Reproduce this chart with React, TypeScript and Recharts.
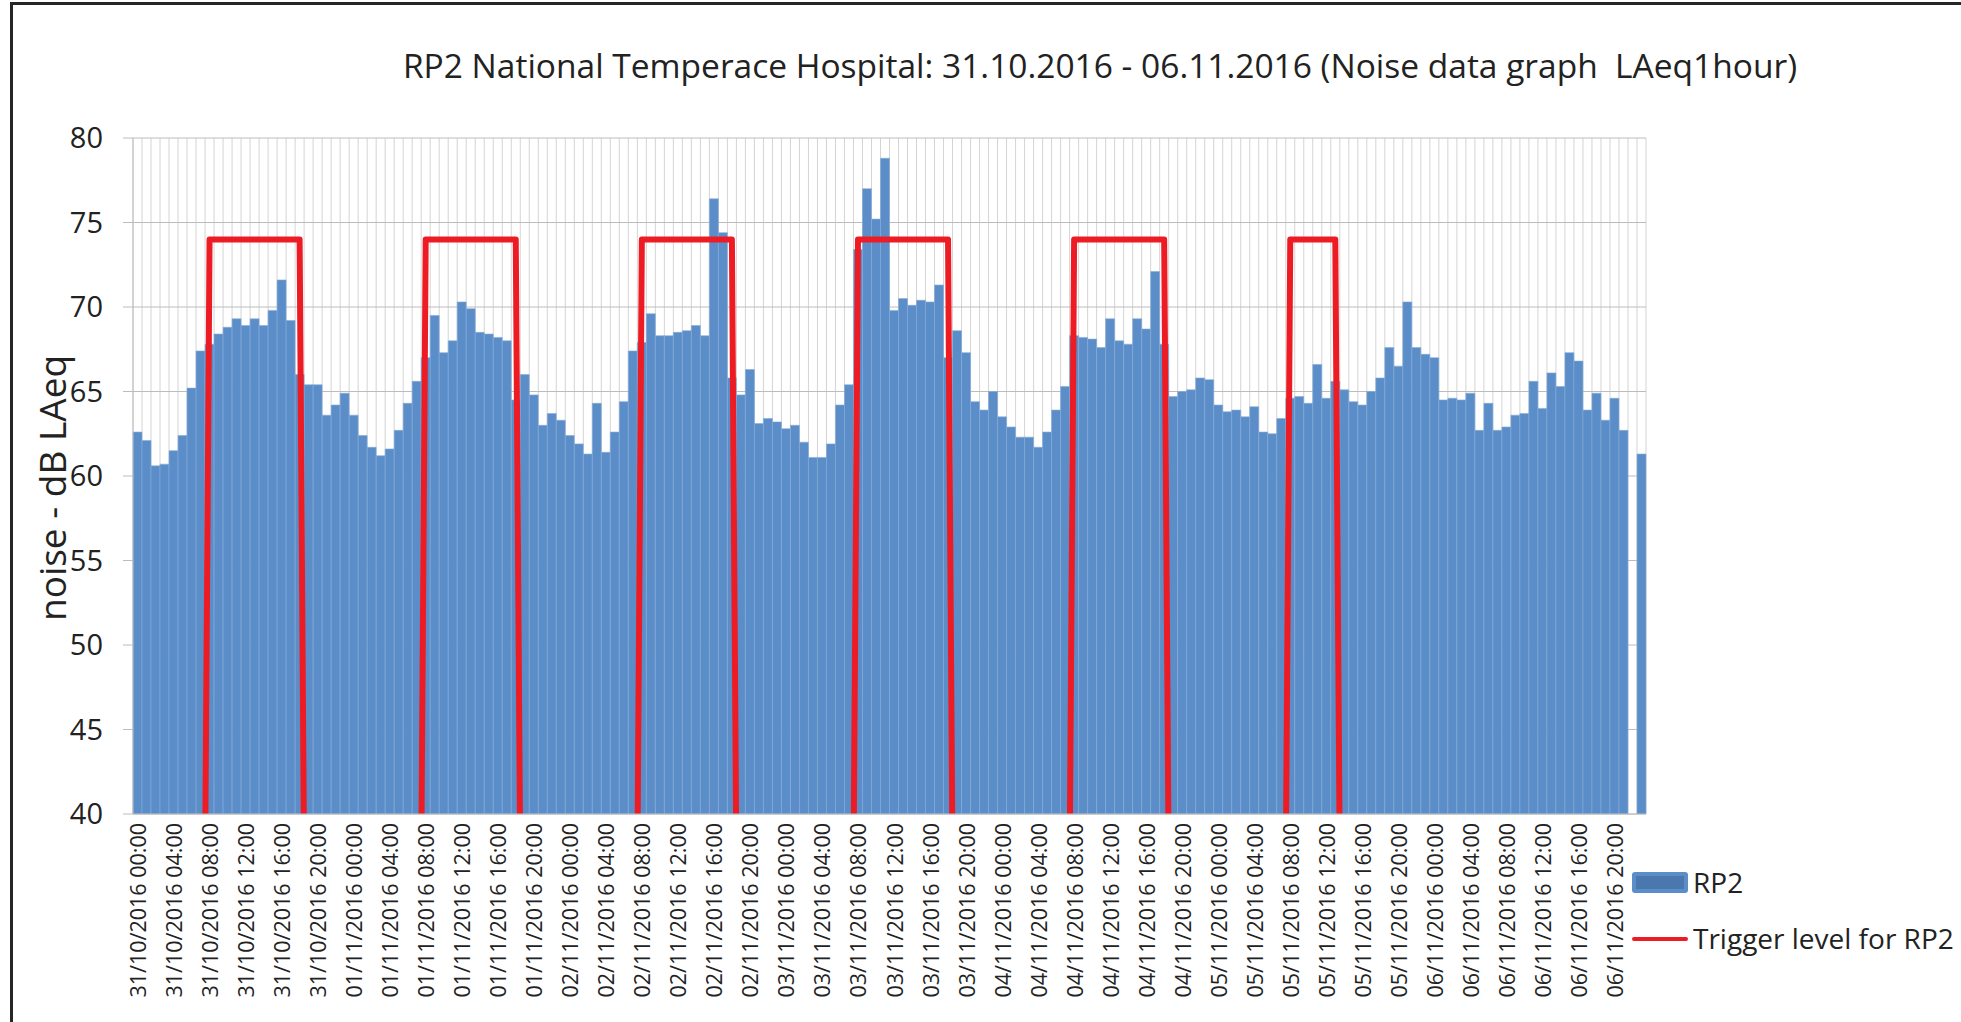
import { ComposedChart, Bar, Line, XAxis, YAxis, CartesianGrid } from "recharts";

const days = [
  "31/10/2016",
  "01/11/2016",
  "02/11/2016",
  "03/11/2016",
  "04/11/2016",
  "05/11/2016",
  "06/11/2016",
];

const hours = [
  "00:00", "01:00", "02:00", "03:00", "04:00", "05:00", "06:00", "07:00",
  "08:00", "09:00", "10:00", "11:00", "12:00", "13:00", "14:00", "15:00",
  "16:00", "17:00", "18:00", "19:00", "20:00", "21:00", "22:00", "23:00",
];

// hourly LAeq, one row per day
const noise31Oct = [62.6, 62.1, 60.6, 60.7, 61.5, 62.4, 65.2, 67.4, 67.8, 68.4, 68.8, 69.3, 68.9, 69.3, 68.9, 69.8, 71.6, 69.2, 66.0, 65.4, 65.4, 63.6, 64.2, 64.9];
const noise01Nov = [63.6, 62.4, 61.7, 61.2, 61.6, 62.7, 64.3, 65.6, 67.0, 69.5, 67.3, 68.0, 70.3, 69.9, 68.5, 68.4, 68.2, 68.0, 64.5, 66.0, 64.8, 63.0, 63.7, 63.3];
const noise02Nov = [62.4, 61.9, 61.3, 64.3, 61.4, 62.6, 64.4, 67.4, 67.9, 69.6, 68.3, 68.3, 68.5, 68.6, 68.9, 68.3, 76.4, 74.4, 65.8, 64.8, 66.3, 63.1, 63.4, 63.2];
const noise03Nov = [62.8, 63.0, 62.0, 61.1, 61.1, 61.9, 64.2, 65.4, 73.4, 77.0, 75.2, 78.8, 69.8, 70.5, 70.1, 70.4, 70.3, 71.3, 67.0, 68.6, 67.3, 64.4, 63.9, 65.0];
const noise04Nov = [63.5, 62.9, 62.3, 62.3, 61.7, 62.6, 63.9, 65.3, 68.3, 68.2, 68.1, 67.6, 69.3, 68.0, 67.8, 69.3, 68.7, 72.1, 67.8, 64.7, 65.0, 65.1, 65.8, 65.7];
const noise05Nov = [64.2, 63.8, 63.9, 63.5, 64.1, 62.6, 62.5, 63.4, 64.6, 64.7, 64.3, 66.6, 64.6, 65.6, 65.1, 64.4, 64.2, 65.0, 65.8, 67.6, 66.5, 70.3, 67.6, 67.2];
const noise06Nov = [67.0, 64.5, 64.6, 64.5, 64.9, 62.7, 64.3, 62.7, 62.9, 63.6, 63.7, 65.6, 64.0, 66.1, 65.3, 67.3, 66.8, 63.9, 64.9, 63.3, 64.6, 62.7, null, 61.3];

// trigger level (0 = no limit, drawn below the axis floor)
const trigger31Oct = [0, 0, 0, 0, 0, 0, 0, 0, 74, 74, 74, 74, 74, 74, 74, 74, 74, 74, 74, 0, 0, 0, 0, 0];
const trigger01Nov = [0, 0, 0, 0, 0, 0, 0, 0, 74, 74, 74, 74, 74, 74, 74, 74, 74, 74, 74, 0, 0, 0, 0, 0];
const trigger02Nov = [0, 0, 0, 0, 0, 0, 0, 0, 74, 74, 74, 74, 74, 74, 74, 74, 74, 74, 74, 0, 0, 0, 0, 0];
const trigger03Nov = [0, 0, 0, 0, 0, 0, 0, 0, 74, 74, 74, 74, 74, 74, 74, 74, 74, 74, 74, 0, 0, 0, 0, 0];
const trigger04Nov = [0, 0, 0, 0, 0, 0, 0, 0, 74, 74, 74, 74, 74, 74, 74, 74, 74, 74, 74, 0, 0, 0, 0, 0];
const trigger05Nov = [0, 0, 0, 0, 0, 0, 0, 0, 74, 74, 74, 74, 74, 74, 0, 0, 0, 0, 0, 0, 0, 0, 0, 0];
const trigger06Nov = [0, 0, 0, 0, 0, 0, 0, 0, 0, 0, 0, 0, 0, 0, 0, 0, 0, 0, 0, 0, 0, 0, 0, 0];

const yTicks = [40, 45, 50, 55, 60, 65, 70, 75, 80];

const noiseByDay = [noise31Oct, noise01Nov, noise02Nov, noise03Nov, noise04Nov, noise05Nov, noise06Nov];
const triggerByDay = [trigger31Oct, trigger01Nov, trigger02Nov, trigger03Nov, trigger04Nov, trigger05Nov, trigger06Nov];

const data = days.flatMap((day, d) =>
  hours.map((h, i) => ({
    time: `${day} ${h}`,
    rp2: noiseByDay[d][i],
    trigger: triggerByDay[d][i],
  }))
);
const categories = data.map((r) => r.time);

const FONT = "'Open Sans', sans-serif";
const TEXT = "#222";

const HourTick = (props: any) => {
  const { x, y, payload } = props;
  return (
    <text
      x={x}
      y={y}
      transform={`rotate(-90 ${x} ${y})`}
      textAnchor="end"
      dominantBaseline="central"
      fontSize={21.5}
      fontFamily={FONT}
      fill={TEXT}>
      {payload.value}
    </text>
  );
};

// vertical grid on the category boundaries, like Excel
const boundaryLines = ({ xAxis, offset }: any) => {
  const s = xAxis && xAxis.scale;
  let mapFn: ((v: string) => number) | null = null;
  if (typeof s === "function") mapFn = s;
  else if (s && typeof s.map === "function") mapFn = (v) => s.map(v);
  const bw = s && typeof s.bandwidth === "function" ? s.bandwidth() : 0;
  if (mapFn && bw) {
    const pts = categories.map((c) => mapFn!(c));
    pts.push(pts[pts.length - 1] + bw);
    return pts;
  }
  const step = offset.width / categories.length;
  return [...categories.map((_, i) => offset.left + i * step), offset.left + offset.width];
};

export default function App() {
  return (
    <div
      style={{
        position: "absolute",
        left: 0,
        top: 0,
        width: 1961,
        height: 1022,
        overflow: "hidden",
        background: "#fff",
        fontFamily: FONT,
      }}>
      <div
        style={{
          position: "absolute",
          left: 10,
          top: 2,
          right: -10,
          bottom: -10,
          borderTop: "3px solid #262626",
          borderLeft: "3px solid #262626",
        }}
      />
      <div
        style={{
          position: "absolute",
          left: 1100,
          top: 65,
          transform: "translate(-50%, -50%)",
          whiteSpace: "pre",
          fontSize: 33.5,
          color: TEXT,
        }}>
        {"RP2 National Temperace Hospital: 31.10.2016 - 06.11.2016 (Noise data graph  LAeq1hour)"}
      </div>
      <div
        style={{
          position: "absolute",
          left: 51,
          top: 488,
          transform: "translate(-50%, -50%) rotate(-90deg)",
          whiteSpace: "nowrap",
          fontSize: 37,
          color: TEXT,
        }}>
        noise - dB LAeq
      </div>

      <div style={{ position: "absolute", left: 0, top: 0 }}>
        <ComposedChart
          width={1961}
          height={1022}
          data={data}
          barCategoryGap={0}
          barGap={0}
          margin={{ top: 138, right: 315, bottom: 18, left: 73 }}>
          <CartesianGrid
            horizontal={false}
            stroke="#d4d4d4"
            verticalCoordinatesGenerator={boundaryLines}
          />
          <CartesianGrid vertical={false} stroke="#bcbcbc" />
          <XAxis
            dataKey="time"
            interval={3}
            height={190}
            tickSize={0}
            tickMargin={9}
            tickLine={false}
            tick={<HourTick />}
            axisLine={{ stroke: "#bcbcbc" }}
          />
          <YAxis
            width={60}
            domain={[40, 80]}
            ticks={yTicks}
            allowDataOverflow
            tickSize={10}
            tickMargin={20}
            tickLine={{ stroke: "#bcbcbc" }}
            axisLine={{ stroke: "#bcbcbc" }}
            tick={{ fontSize: 29, fill: TEXT, fontFamily: FONT }}
          />
          <Bar
            dataKey="rp2"
            fill="#5b8ec9"
            stroke="#86abd9"
            strokeWidth={0.6}
            isAnimationActive={false}
          />
          <Line
            dataKey="trigger"
            type="linear"
            stroke="#ed1c24"
            strokeWidth={6}
            strokeLinejoin="round"
            dot={false}
            activeDot={false}
            isAnimationActive={false}
          />
        </ComposedChart>
      </div>

      <div style={{ position: "absolute", left: 1632, top: 872, display: "flex", alignItems: "center" }}>
        <div
          style={{
            width: 48,
            height: 13,
            background: "#4a77ad",
            border: "4px solid #5b8ec9",
            borderRadius: 3,
          }}
        />
        <span style={{ marginLeft: 5, fontSize: 28, color: TEXT, lineHeight: "21px" }}>RP2</span>
      </div>
      <div style={{ position: "absolute", left: 1632, top: 928, display: "flex", alignItems: "center" }}>
        <div style={{ width: 56, height: 4, background: "#ed1c24", borderRadius: 2 }} />
        <span style={{ marginLeft: 5, fontSize: 28, color: TEXT, lineHeight: "21px" }}>
          Trigger level for RP2
        </span>
      </div>
    </div>
  );
}
